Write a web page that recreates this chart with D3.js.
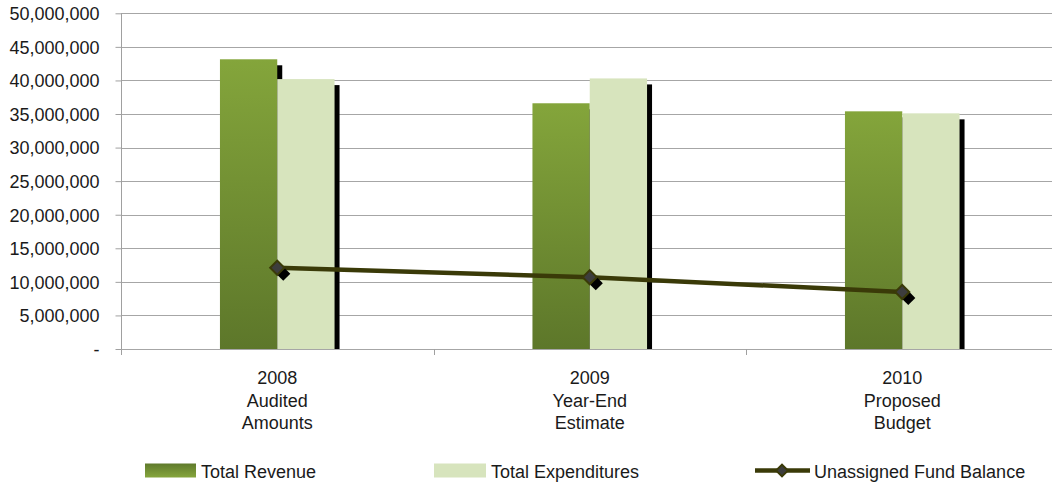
<!DOCTYPE html>
<html>
<head>
<meta charset="utf-8">
<script src="https://cdn.jsdelivr.net/npm/d3@7"></script>
<style>
  html, body { margin: 0; padding: 0; background: #ffffff; }
  svg { display: block; }
  text { font-family: "Liberation Sans", Arial, sans-serif; fill: #1a1a1a; }
</style>
</head>
<body>
<svg id="chart" width="1052" height="486"></svg>
<script>
// Fund summary by year
const categories = [["2008", "Audited", "Amounts"], ["2009", "Year-End", "Estimate"], ["2010", "Proposed", "Budget"]];
const categoryKeys = ["2008", "2009", "2010"];
const seriesNames = ["Total Revenue", "Total Expenditures"];
const lineName = "Unassigned Fund Balance";
const totalRevenue = [43150000, 36600000, 35400000];
const totalExpenditures = [40200000, 40300000, 35100000];
const fundBalance = [12100000, 10700000, 8500000];
const yTicks = [0, 5000000, 10000000, 15000000, 20000000, 25000000, 30000000, 35000000, 40000000, 45000000, 50000000];

const svg = d3.select("#chart");
const plotLeft = 121, plotRight = 1058.5, plotTop = 13.3, plotBottom = 349;
const fontSize = 18;

const x0 = d3.scaleBand().domain(categoryKeys).range([plotLeft, plotRight]).paddingInner(0).paddingOuter(0);
const x1 = d3.scaleBand().domain(seriesNames).range([0, x0.bandwidth()]).paddingInner(0).paddingOuter(1.727);
const y = d3.scaleLinear().domain([0, 50000000]).range([plotBottom, plotTop]);

const defs = svg.append("defs");
const grad = defs.append("linearGradient").attr("id", "revGrad")
  .attr("x1", 0).attr("y1", 0).attr("x2", 0).attr("y2", 1);
grad.append("stop").attr("offset", "0%").attr("stop-color", "#84a53b");
grad.append("stop").attr("offset", "100%").attr("stop-color", "#5d772a");
const gradLeg = defs.append("linearGradient").attr("id", "revGradLeg")
  .attr("x1", 0).attr("y1", 0).attr("x2", 0).attr("y2", 1);
gradLeg.append("stop").attr("offset", "0%").attr("stop-color", "#5f7a2c");
gradLeg.append("stop").attr("offset", "100%").attr("stop-color", "#86a63d");

const clip = defs.append("clipPath").attr("id", "plotClip");
clip.append("rect").attr("x", 0).attr("y", 0).attr("width", 1052).attr("height", plotBottom);

// horizontal gridlines
svg.append("g").selectAll("line").data(yTicks.filter(d => d > 0)).join("line")
  .attr("x1", plotLeft).attr("x2", 1052)
  .attr("y1", d => Math.round(y(d)) + 0.5).attr("y2", d => Math.round(y(d)) + 0.5)
  .attr("stroke", "#a6a6a6").attr("stroke-width", 1.2);

// y axis
const yAxis = d3.axisLeft(y).tickValues(yTicks).tickSize(6).tickPadding(16)
  .tickFormat(d => d === 0 ? "-" : d3.format(",")(d));
const gy = svg.append("g").attr("transform", `translate(${plotLeft + 0.5},0)`).call(yAxis);
gy.select(".domain").attr("stroke", "#a0a0a0").attr("d", `M0,${plotTop}V${plotBottom + 6}`);
gy.selectAll(".tick line").attr("stroke", "#a0a0a0");
gy.selectAll(".tick text").attr("font-size", fontSize).attr("fill", "#1a1a1a")
  .attr("font-family", "Liberation Sans, Arial, sans-serif").attr("dy", "0.35em");

const barData = categoryKeys.map((c, i) => [
  { cat: c, s: seriesNames[0], v: totalRevenue[i] },
  { cat: c, s: seriesNames[1], v: totalExpenditures[i] }
]).flat();

const sdx = 5, sdy = 6;
// bar shadows
svg.append("g").attr("clip-path", "url(#plotClip)").selectAll("rect").data(barData).join("rect")
  .attr("x", d => x0(d.cat) + x1(d.s) + sdx)
  .attr("y", d => y(d.v) + sdy)
  .attr("width", x1.bandwidth())
  .attr("height", d => plotBottom - y(d.v))
  .attr("fill", "#000");

// bars
svg.append("g").selectAll("rect").data(barData).join("rect")
  .attr("x", d => x0(d.cat) + x1(d.s))
  .attr("y", d => y(d.v))
  .attr("width", x1.bandwidth())
  .attr("height", d => plotBottom - y(d.v))
  .attr("fill", d => d.s === seriesNames[0] ? "url(#revGrad)" : "#d7e4bd");

// x axis
svg.append("line").attr("x1", plotLeft).attr("x2", 1052).attr("y1", plotBottom + 0.5).attr("y2", plotBottom + 0.5)
  .attr("stroke", "#a6a6a6").attr("stroke-width", 1.2);
svg.append("g").selectAll("line").data(categoryKeys.slice(1)).join("line")
  .attr("x1", d => Math.round(x0(d)) + 0.5).attr("x2", d => Math.round(x0(d)) + 0.5)
  .attr("y1", plotBottom).attr("y2", plotBottom + 6)
  .attr("stroke", "#a0a0a0");

// category labels
const catG = svg.append("g").selectAll("text").data(categories).join("text")
  .attr("text-anchor", "middle").attr("font-size", fontSize)
  .attr("x", (d, i) => x0(categoryKeys[i]) + x0.bandwidth() / 2)
  .attr("y", 384);
catG.selectAll("tspan").data(d => d).join("tspan")
  .attr("x", function () { return d3.select(this.parentNode).attr("x"); })
  .attr("dy", (d, i) => i === 0 ? 0 : 22.5)
  .text(d => d);

// fund balance line
const px = (d, i) => x0(categoryKeys[i]) + x0.bandwidth() / 2;
const line = d3.line().x((d, i) => px(d, i)).y(d => y(d));
svg.append("path").datum(fundBalance).attr("d", line)
  .attr("fill", "none").attr("stroke", "#3a3a08").attr("stroke-width", 4.5);

// square markers turned 45 degrees
const marker = d3.symbol().type(d3.symbolSquare).size(100);
svg.append("g").selectAll("path").data(fundBalance).join("path")
  .attr("d", marker)
  .attr("transform", (d, i) => `translate(${px(d, i) + 6},${y(d) + 6}) rotate(45)`)
  .attr("fill", "#000");
svg.append("g").selectAll("path").data(fundBalance).join("path")
  .attr("d", marker)
  .attr("transform", (d, i) => `translate(${px(d, i)},${y(d)}) rotate(45)`)
  .attr("fill", "#3d3d3d").attr("stroke", "#3a3a08").attr("stroke-width", 2);

// legend
const leg = svg.append("g");
leg.append("rect").attr("x", 145).attr("y", 463.5).attr("width", 51).attr("height", 14).attr("fill", "url(#revGradLeg)");
leg.append("text").attr("x", 201).attr("y", 477.5).attr("font-size", fontSize).text(seriesNames[0]);
leg.append("rect").attr("x", 434).attr("y", 463.5).attr("width", 52).attr("height", 14).attr("fill", "#d7e4bd");
leg.append("text").attr("x", 491).attr("y", 477.5).attr("font-size", fontSize).text(seriesNames[1]);
leg.append("line").attr("x1", 755).attr("x2", 810).attr("y1", 470.5).attr("y2", 470.5)
  .attr("stroke", "#3a3a08").attr("stroke-width", 4.5);
leg.append("path").attr("d", d3.symbol().type(d3.symbolSquare).size(70))
  .attr("transform", "translate(782,470.5) rotate(45)")
  .attr("fill", "#3d3d3d").attr("stroke", "#3a3a08").attr("stroke-width", 2);
leg.append("text").attr("x", 814).attr("y", 477.5).attr("font-size", fontSize).text(lineName);
</script>
</body>
</html>
